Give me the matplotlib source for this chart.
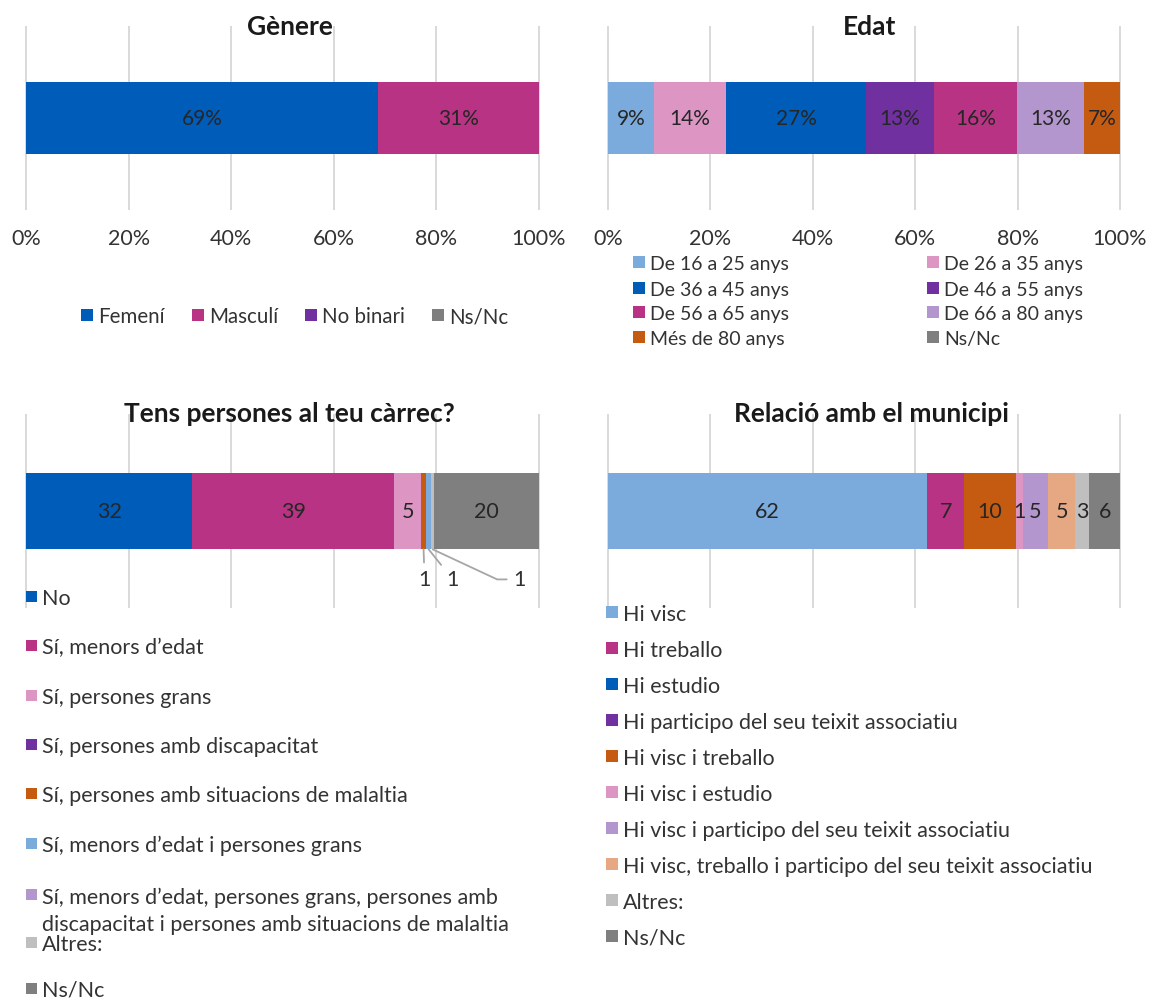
import matplotlib
matplotlib.use('Agg')
import matplotlib.pyplot as plt
from matplotlib.patches import Rectangle

plt.rcParams['font.family'] = ['Lato', 'DejaVu Sans']

# colours (Excel-like palette)
BLUE = '#005cb9'
MAGENTA = '#b83383'
PURPLE = '#7030a0'
GRAY = '#7f7f7f'
LBLUE = '#7baadc'
PINK = '#dd96c3'
LAVENDER = '#b496cf'
ORANGE = '#c55a11'
PEACH = '#e6a883'
LGRAY = '#bfbfbf'
TXT = '#333333'

# ---- data ----
genere_labels = ['Femení', 'Masculí', 'No binari', 'Ns/Nc']
genere_vals = [68.7, 31.3, 0, 0]
genere_colors = [BLUE, MAGENTA, PURPLE, GRAY]

edat_labels = ['De 16 a 25 anys', 'De 26 a 35 anys', 'De 36 a 45 anys', 'De 46 a 55 anys',
               'De 56 a 65 anys', 'De 66 a 80 anys', 'Més de 80 anys', 'Ns/Nc']
edat_vals = [8.9, 14.2, 27.3, 13.2, 16.3, 13.0, 7.1, 0]
edat_colors = [LBLUE, PINK, BLUE, PURPLE, MAGENTA, LAVENDER, ORANGE, GRAY]

carrec_labels = ['No', 'Sí, menors d’edat', 'Sí, persones grans', 'Sí, persones amb discapacitat',
                 'Sí, persones amb situacions de malaltia', 'Sí, menors d’edat i persones grans',
                 'Sí, menors d’edat, persones grans, persones amb\ndiscapacitat i persones amb situacions de malaltia',
                 'Altres:', 'Ns/Nc']
carrec_vals = [32.4, 39.4, 5.2, 0, 1.0, 1.0, 0, 0.6, 20.4]
carrec_colors = [BLUE, MAGENTA, PINK, PURPLE, ORANGE, LBLUE, LAVENDER, LGRAY, GRAY]

relacio_labels = ['Hi visc', 'Hi treballo', 'Hi estudio', 'Hi participo del seu teixit associatiu',
                  'Hi visc i treballo', 'Hi visc i estudio', 'Hi visc i participo del seu teixit associatiu',
                  'Hi visc, treballo i participo del seu teixit associatiu', 'Altres:', 'Ns/Nc']
relacio_vals = [62.4, 7.1, 0, 0, 10.2, 1.3, 5.0, 5.2, 2.8, 6.0]
relacio_colors = [LBLUE, MAGENTA, BLUE, PURPLE, ORANGE, PINK, LAVENDER, PEACH, LGRAY, GRAY]

ticks = [0, 20, 40, 60, 80, 100]

W, H = 1154, 1003
fig = plt.figure(figsize=(W / 100, H / 100), dpi=100)


def fbox(l, t, r, b):
    return [l / W, 1 - b / H, (r - l) / W, (b - t) / H]


def setup(ax, show_ticks):
    ax.set_xlim(0, 100)
    ax.set_ylim(-1, 1)
    ax.set_xticks(ticks)
    if show_ticks:
        ax.set_xticklabels([f'{t}%' for t in ticks])
    else:
        ax.set_xticklabels([])
    ax.set_yticks([])
    ax.grid(axis='x', color='#d9d9d9', lw=1.4)
    ax.set_axisbelow(True)
    for line in ax.get_xgridlines():
        line.set_clip_on(False)
    for s in ax.spines.values():
        s.set_visible(False)
    ax.tick_params(axis='x', length=0, pad=14, labelsize=15.5, labelcolor=TXT)


def stacked(ax, vals, colors, fmt, fs, outside=None):
    outside = outside or {}
    left = 0
    for i, (v, c) in enumerate(zip(vals, colors)):
        ax.barh(0, v, left=left, height=0.8, color=c, lw=0)
        if v > 0:
            if i in outside:
                dx, dy, ang = outside[i]
                cs = 'arc3' if ang is None else f'angle,angleA=0,angleB={ang},rad=0'
                ax.annotate(fmt(v), xy=(left + v / 2, -0.4), xytext=(dx, dy),
                            textcoords='offset pixels', ha='center', va='center',
                            fontsize=fs, color=TXT,
                            arrowprops=dict(arrowstyle='-', color='#a6a6a6', lw=1.3,
                                            shrinkA=3, shrinkB=0, connectionstyle=cs))
            else:
                ax.text(left + v / 2, 0, fmt(v), ha='center', va='center',
                        fontsize=fs, color='#262626')
        left += v


def legend(labels, colors, xs, ys, fs=14, size=12, gap=5, step=28, **kw):
    half_cap = 0.36 * fs * 100 / 72
    for lab, c, x, y in zip(labels, colors, xs, ys):
        fig.patches.append(Rectangle((x / W, 1 - (y + size / 2) / H), size / W, size / H,
                                     transform=fig.transFigure, color=c, lw=0))
        yb = y + half_cap + lab.count('\n') * step
        fig.text((x + size + gap) / W, 1 - yb / H, lab, ha='left', va='baseline',
                 fontsize=fs, color=TXT, **kw)


ax1 = fig.add_axes(fbox(26, 28, 539, 210))
ax2 = fig.add_axes(fbox(608, 28, 1120, 210))
ax3 = fig.add_axes(fbox(26, 416, 539, 608))
ax4 = fig.add_axes(fbox(608, 416, 1120, 608))

for ax, st in [(ax1, True), (ax2, True), (ax3, False), (ax4, False)]:
    setup(ax, st)

pct = lambda v: f'{v:.0f}%'
num = lambda v: f'{v:.0f}'

stacked(ax1, genere_vals, genere_colors, pct, 15)
stacked(ax2, edat_vals, edat_colors, pct, 15)
stacked(ax3, carrec_vals, carrec_colors, num, 15.5,
        outside={4: (1, -30, None), 5: (24, -30, None), 7: (87, -30, -25)})
stacked(ax4, relacio_vals, relacio_colors, num, 15.5)

# titles
tkw = dict(ha='center', va='baseline', fontsize=19, fontweight='bold', color='#1a1a1a')
fig.text(290 / W, 1 - 35 / H, 'Gènere', **tkw)
fig.text(870 / W, 1 - 35 / H, 'Edat', **tkw)
fig.text(289 / W, 1 - 422.5 / H, 'Tens persones al teu càrrec?', **tkw)
fig.text(871 / W, 1 - 422.5 / H, 'Relació amb el municipi', **tkw)

# legends
legend(genere_labels, genere_colors, [81, 192, 305, 432], [316] * 4, fs=14.8)
legend(edat_labels, edat_colors, [633, 927] * 4, [263, 263, 289, 289, 313, 313, 338, 338], fs=14)
legend(carrec_labels, carrec_colors, [26] * 9, [597, 646, 696, 745, 794, 844, 895, 943, 989],
       fs=15.5, size=11, linespacing=1.41)
legend(relacio_labels, relacio_colors, [606] * 10, [613 + 36 * i for i in range(10)], fs=15.5)

fig.savefig('out.png', dpi=100)
